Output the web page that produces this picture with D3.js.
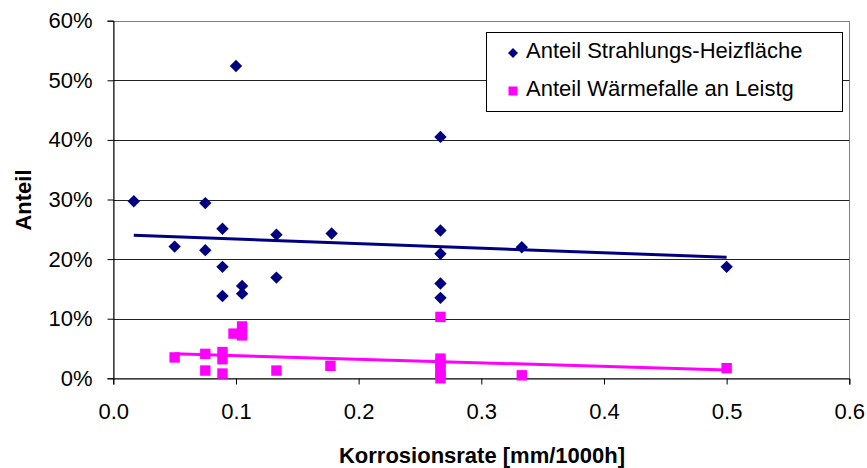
<!DOCTYPE html>
<html>
<head>
<meta charset="utf-8">
<script src="https://cdn.jsdelivr.net/npm/d3@7"></script>
<style>
  html, body { margin: 0; padding: 0; background: #fff; }
  svg { display: block; font-family: Arial, "Liberation Sans", sans-serif; }
</style>
</head>
<body>
<svg id="chart" width="867" height="468"></svg>
<script>
// ---- data ----
const xTicks = [0, 0.1, 0.2, 0.3, 0.4, 0.5, 0.6];
const yTicks = [0, 0.1, 0.2, 0.3, 0.4, 0.5, 0.6];
const seriesNames = ["Anteil Strahlungs-Heizfläche", "Anteil Wärmefalle an Leistg"];

const strahlungX = [0.0167, 0.1, 0.2667, 0.075, 0.089, 0.05, 0.075, 0.089, 0.089, 0.105, 0.105, 0.133, 0.133, 0.178, 0.2667, 0.2667, 0.2667, 0.2667, 0.333, 0.5];
const strahlungY = [0.297, 0.524, 0.405, 0.294, 0.251, 0.221, 0.215, 0.187, 0.138, 0.155, 0.142, 0.241, 0.169, 0.243, 0.248, 0.209, 0.159, 0.135, 0.220, 0.187];

const waermeX = [0.05, 0.075, 0.075, 0.089, 0.089, 0.089, 0.098, 0.105, 0.105, 0.133, 0.177, 0.2667, 0.2667, 0.2667, 0.2667, 0.2667, 0.2667, 0.333, 0.5];
const waermeY = [0.035, 0.041, 0.013, 0.044, 0.032, 0.008, 0.075, 0.087, 0.072, 0.013, 0.021, 0.103, 0.033, 0.025, 0.015, 0.006, 0.0, 0.005, 0.017];

// linear trend lines
const strahlungTrendX = [0.0167, 0.5];
const strahlungTrendY = [0.240, 0.203];
const waermeTrendX = [0.05, 0.5];
const waermeTrendY = [0.041, 0.014];

// ---- drawing ----
(function () {
const svg = d3.select("#chart");
const pLeft = 113.3, pRight = 849.3, pTop = 20.7, pBottom = 378.3;
const x = d3.scaleLinear().domain([0, 0.6]).range([pLeft, pRight]);
const y = d3.scaleLinear().domain([0, 0.6]).range([pBottom, pTop]);
const navy = "#000080", pink = "#FF00FF";

// plot area border
svg.append("rect")
  .attr("x", Math.round(pLeft) + 0.5).attr("y", Math.round(pTop) + 0.5)
  .attr("width", Math.round(pRight) - Math.round(pLeft)).attr("height", Math.round(pBottom) - Math.round(pTop))
  .attr("fill", "none").attr("stroke", "#808080").attr("stroke-width", 1);

// gridlines
svg.append("g").selectAll("line").data(yTicks.filter(d => d > 0)).join("line")
  .attr("x1", pLeft).attr("x2", pRight)
  .attr("y1", d => Math.round(y(d)) + 0.5).attr("y2", d => Math.round(y(d)) + 0.5)
  .attr("stroke", d => d === 0.6 ? "#808080" : "#222").attr("stroke-width", 1);

// axes
const fmtPct = d3.format(".0%");
const yAxis = svg.append("g")
  .attr("transform", `translate(${Math.round(pLeft) + 0.5},0)`)
  .call(d3.axisLeft(y).tickValues(yTicks).tickFormat(fmtPct).tickSize(6).tickPadding(15));
const xAxis = svg.append("g")
  .attr("transform", `translate(0,${Math.round(pBottom) + 0.5})`)
  .call(d3.axisBottom(x).tickValues(xTicks).tickFormat(d3.format(".1f")).tickSize(6).tickPadding(19));

[yAxis, xAxis].forEach(a => {
  a.select(".domain").attr("stroke", "#000");
  a.selectAll(".tick line").attr("stroke", "#000");
  a.selectAll(".tick text").attr("fill", "#000").attr("font-size", 22)
    .attr("font-family", "Arial, 'Liberation Sans', sans-serif");
});

// axis titles
svg.append("text")
  .attr("x", 482).attr("y", 463)
  .attr("text-anchor", "middle").attr("font-weight", "bold").attr("font-size", 22)
  .text("Korrosionsrate [mm/1000h]");
svg.append("text")
  .attr("transform", "translate(31,200) rotate(-90)")
  .attr("text-anchor", "middle").attr("font-weight", "bold").attr("font-size", 22)
  .text("Anteil");

// trend lines
const line = d3.line().x(d => x(d[0])).y(d => y(d[1]));
svg.append("path").datum(d3.zip(strahlungTrendX, strahlungTrendY))
  .attr("d", line).attr("fill", "none").attr("stroke", navy).attr("stroke-width", 3);
svg.append("path").datum(d3.zip(waermeTrendX, waermeTrendY))
  .attr("d", line).attr("fill", "none").attr("stroke", pink).attr("stroke-width", 3);

// markers
const diamond = r => `M0,${-r}L${r},0L0,${r}L${-r},0Z`;
svg.append("g").selectAll("path").data(d3.zip(strahlungX, strahlungY)).join("path")
  .attr("transform", d => `translate(${x(d[0])},${y(d[1])})`)
  .attr("d", diamond(6.2)).attr("fill", navy);
svg.append("g").selectAll("rect").data(d3.zip(waermeX, waermeY)).join("rect")
  .attr("x", d => x(d[0]) - 5.2).attr("y", d => y(d[1]) - 5.2)
  .attr("width", 10.4).attr("height", 10.4).attr("fill", pink);

// legend
const lg = svg.append("g");
lg.append("rect").attr("x", 486.5).attr("y", 32.5).attr("width", 356).attr("height", 79)
  .attr("fill", "#fff").attr("stroke", "#000").attr("stroke-width", 1);
const rows = [53, 91];
lg.append("path").attr("transform", `translate(513,${rows[0]})`).attr("d", diamond(5)).attr("fill", navy);
lg.append("rect").attr("x", 508.5).attr("y", rows[1] - 4.5).attr("width", 9).attr("height", 9).attr("fill", pink);
lg.selectAll("text").data(seriesNames).join("text")
  .attr("x", 526).attr("y", (d, i) => [57.5, 96][i])
  .attr("font-size", 22).attr("fill", "#000")
  .text(d => d);
})();
</script>
</body>
</html>
